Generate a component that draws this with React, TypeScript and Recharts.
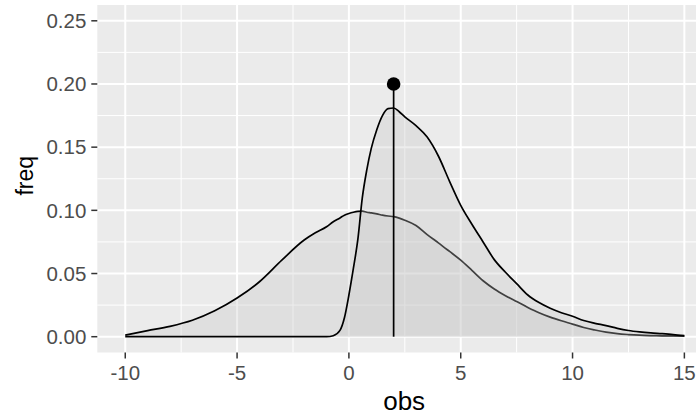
import React from 'react';
import {
  ComposedChart,
  Area,
  XAxis,
  YAxis,
  CartesianGrid,
  ReferenceLine,
  ReferenceDot,
} from 'recharts';

const obs = [
  -10, -9, -8, -7, -6, -5, -4, -3, -2, -1.5, -1, -0.7, -0.4, -0.2, 0, 0.2, 0.4, 0.6, 0.8, 1,
  1.25, 1.5, 1.75, 2, 2.25, 2.5, 3, 3.5, 4, 4.5, 5, 5.5, 6, 6.5, 7, 7.5, 8, 8.5, 9, 9.5, 10,
  10.5, 11, 11.5, 12, 12.5, 13, 13.5, 14, 14.5, 15,
];

const wideFreq = [
  0.0013, 0.0048, 0.0082, 0.013, 0.0205, 0.0306, 0.0435, 0.0606, 0.0765, 0.0822, 0.087, 0.091,
  0.094, 0.0962, 0.0975, 0.0985, 0.0992, 0.0994, 0.0985, 0.098, 0.0972, 0.0962, 0.0955, 0.095,
  0.0938, 0.0922, 0.088, 0.0808, 0.0743, 0.0675, 0.0606, 0.0525, 0.0443, 0.0378, 0.0325, 0.0278,
  0.0232, 0.019, 0.0155, 0.0126, 0.01, 0.0073, 0.0053, 0.0036, 0.0024, 0.0017, 0.0012, 0.0009,
  0.0007, 0.0006, 0.0005,
];

const narrowFreq = [
  0, 0, 0, 0, 0, 0, 0, 0, 0, 0, 0, 0.0008, 0.005, 0.015, 0.033, 0.054, 0.077, 0.11, 0.132, 0.149,
  0.164, 0.175, 0.1805, 0.181, 0.178, 0.174, 0.167, 0.158, 0.143, 0.123, 0.104, 0.089, 0.075,
  0.061, 0.051, 0.042, 0.033, 0.027, 0.0225, 0.019, 0.0162, 0.0128, 0.0106, 0.0088, 0.0066, 0.0049,
  0.0038, 0.003, 0.0024, 0.0017, 0.0008,
];

const xTicks = [-10, -5, 0, 5, 10, 15];
const yTicks = [0, 0.05, 0.1, 0.15, 0.2, 0.25];
const xMinor = [-7.5, -2.5, 2.5, 7.5, 12.5];
const yMinor = [0.025, 0.075, 0.125, 0.175, 0.225];
const markerX = 2;
const markerY = 0.2;

const data = obs.map((x, i) => ({ obs: x, wide: wideFreq[i], narrow: narrowFreq[i] }));

const FONT = '"Liberation Sans", Arial, sans-serif';

const XTitle = (props: any) => {
  const vb = props.viewBox || { x: 0, y: 0, width: 0, height: 0 };
  return (
    <text
      x={vb.x + vb.width / 2 + 7.5}
      y={vb.y + 57.5}
      textAnchor="middle"
      fontFamily={FONT}
      fontSize={26}
      fill="#000"
    >
      obs
    </text>
  );
};

const YTitle = (props: any) => {
  const vb = props.viewBox || { x: 0, y: 0, width: 0, height: 0 };
  const cx = vb.x + 33;
  const cy = vb.y + vb.height / 2 - 3;
  return (
    <text
      x={cx}
      y={cy}
      textAnchor="middle"
      fontFamily={FONT}
      fontSize={23}
      fill="#000"
      transform={`rotate(-90, ${cx}, ${cy})`}
    >
      freq
    </text>
  );
};

export default function App() {
  return (
    <div style={{ position: 'absolute', left: 0, top: 0, width: 696, height: 416, background: '#fff' }}>
      <ComposedChart
        width={696}
        height={416}
        data={data}
        margin={{ top: 5, right: 0, bottom: 0, left: 0 }}
      >
        <CartesianGrid
          fill="#EBEBEB"
          stroke="#FFFFFF"
          strokeWidth={1}
          verticalValues={xMinor}
          horizontalValues={yMinor}
        />
        <CartesianGrid
          stroke="#FFFFFF"
          strokeWidth={2}
          verticalValues={xTicks}
          horizontalValues={yTicks}
        />
        <XAxis
          dataKey="obs"
          type="number"
          domain={[-11.25, 15.52]}
          allowDataOverflow
          ticks={xTicks}
          axisLine={false}
          tickSize={6}
          tickMargin={7}
          tickLine={{ stroke: '#333333', strokeWidth: 1.5 }}
          tick={{ fill: '#4D4D4D', fontSize: 20.5, fontFamily: FONT }}
          height={63.5}
          label={{ content: XTitle }}
        />
        <YAxis
          type="number"
          domain={[-0.0125, 0.2625]}
          allowDataOverflow
          ticks={yTicks}
          tickFormatter={(v: number) => v.toFixed(2)}
          axisLine={false}
          tickSize={6}
          tickMargin={5}
          tickLine={{ stroke: '#333333', strokeWidth: 1.5 }}
          tick={{ fill: '#4D4D4D', fontSize: 20.5, fontFamily: FONT }}
          width={97.3}
          label={{ content: YTitle }}
        />
        <Area
          type="monotone"
          dataKey="wide"
          baseValue={0}
          stroke="#000"
          strokeWidth={1.7}
          fill="#C8C8C8"
          fillOpacity={0.32}
          dot={false}
          activeDot={false}
          isAnimationActive={false}
        />
        <Area
          type="monotone"
          dataKey="narrow"
          baseValue={0}
          stroke="#000"
          strokeWidth={1.7}
          fill="#C8C8C8"
          fillOpacity={0.32}
          dot={false}
          activeDot={false}
          isAnimationActive={false}
        />
        <ReferenceLine
          segment={[
            { x: markerX, y: 0 },
            { x: markerX, y: markerY },
          ]}
          stroke="#000"
          strokeWidth={1.7}
        />
        <ReferenceDot x={markerX} y={markerY} r={6.8} fill="#000" stroke="none" />
      </ComposedChart>
    </div>
  );
}
